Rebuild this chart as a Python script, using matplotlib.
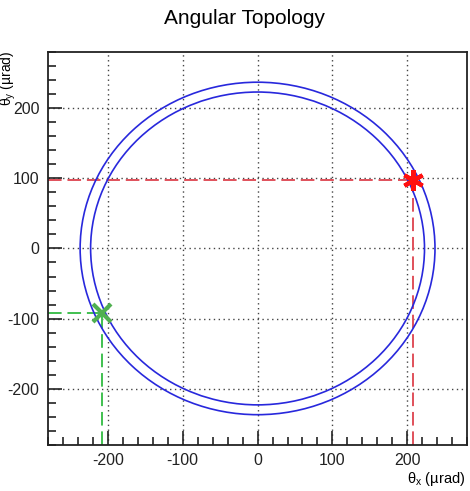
import matplotlib
matplotlib.use("Agg")
import matplotlib.pyplot as plt
from matplotlib.patches import Circle
from matplotlib.ticker import MultipleLocator

plt.rcParams['font.family'] = ['Liberation Sans', 'DejaVu Sans']
plt.rcParams['axes.unicode_minus'] = False
plt.rcParams['mathtext.fontset'] = 'custom'
plt.rcParams['mathtext.rm'] = 'Liberation Sans'

# data
ring_radii = [223, 237]           # µrad, inner and outer contour
red_point = (207, 97)             # star marker
green_point = (-208, -92)         # x marker
x_ticks = [-200, -100, 0, 100, 200]
y_ticks = [-200, -100, 0, 100, 200]
axis_range = (-280, 280)

fig = plt.figure(figsize=(4.70, 4.91), dpi=100)
ax = fig.add_axes([0.102, 0.094, 0.892, 0.800])
ax.set_xlim(*axis_range)
ax.set_ylim(*axis_range)

for r in ring_radii:
    ax.add_patch(Circle((0, 0), r, fill=False, edgecolor='#2828dc', lw=1.2, zorder=3))

dash = (0, (7, 3))
ax.plot([axis_range[0], red_point[0]], [red_point[1], red_point[1]], color='#e0505a', lw=1.4, ls=dash, zorder=2)
ax.plot([red_point[0], red_point[0]], [axis_range[0], red_point[1]], color='#e0505a', lw=1.4, ls=dash, zorder=2)
ax.plot([axis_range[0], green_point[0]], [green_point[1], green_point[1]], color='#40c050', lw=1.4, ls=dash, zorder=2)
ax.plot([green_point[0], green_point[0]], [axis_range[0], green_point[1]], color='#40c050', lw=1.4, ls=dash, zorder=2)

ax.plot([red_point[0]], [red_point[1]], marker=(6, 2, 0), color='#ff1010', ms=15, mew=3, zorder=4)
ax.plot([green_point[0]], [green_point[1]], marker='x', color='#50b050', ms=13, mew=3, zorder=4)

ax.set_xticks(x_ticks)
ax.set_yticks(y_ticks)
ax.xaxis.set_minor_locator(MultipleLocator(20))
ax.yaxis.set_minor_locator(MultipleLocator(20))
ax.tick_params(which='both', direction='in', top=False, right=False, labelsize=11.5, width=1.2, colors='#222222')
ax.tick_params(which='major', length=10, pad=6)
ax.tick_params(which='minor', length=6)
ax.grid(True, which='major', ls=(0, (1, 2.5)), color='#444444', lw=1.0)
for s in ax.spines.values():
    s.set_linewidth(1.3)
    s.set_color('#222222')

fig.text(0.52, 0.962, 'Angular Topology', ha='center', va='center', fontsize=15)
fig.text(0.99, 0.025, r'θ$_\mathrm{x}$ (µrad)', ha='right', va='center', fontsize=10.5)
fig.text(0.018, 0.897, r'θ$_\mathrm{y}$ (µrad)', ha='center', va='top', rotation=90, fontsize=10)

fig.savefig('out.png', dpi=100)
